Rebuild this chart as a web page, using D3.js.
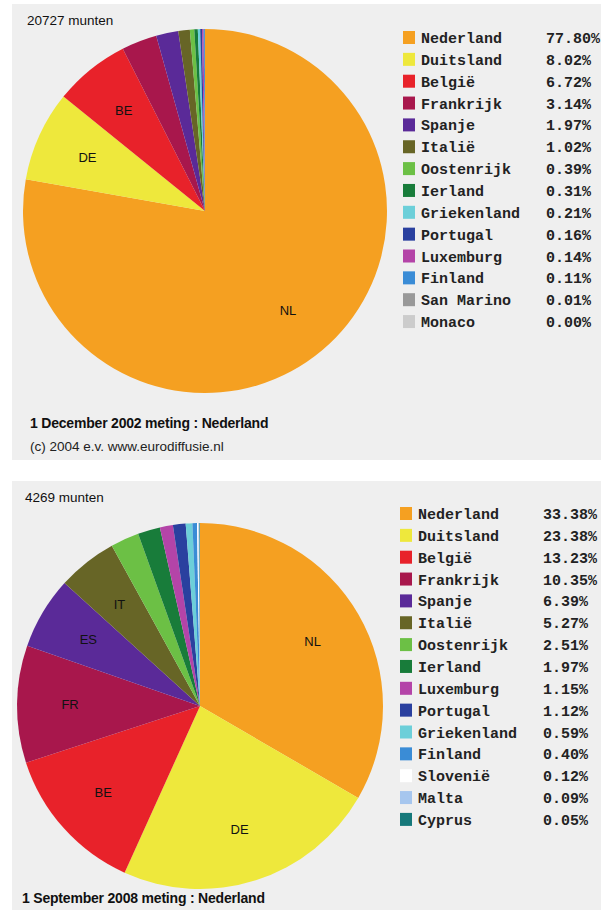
<!DOCTYPE html>
<html>
<head>
<meta charset="utf-8">
<script src="https://cdn.jsdelivr.net/npm/d3@7/dist/d3.min.js"></script>
<style>
  body { margin: 0; background: #fff; }
  svg { display: block; }
</style>
</head>
<body>
<div id="chart"></div>
<script>
// 2002 meting
const names2002 = ["Nederland", "Duitsland", "België", "Frankrijk", "Spanje", "Italië", "Oostenrijk", "Ierland", "Griekenland", "Portugal", "Luxemburg", "Finland", "San Marino", "Monaco"];
const codes2002 = ["NL", "DE", "BE", "FR", "ES", "IT", "AT", "IE", "GR", "PT", "LU", "FI", "SM", "MC"];
const values2002 = [77.80, 8.02, 6.72, 3.14, 1.97, 1.02, 0.39, 0.31, 0.21, 0.16, 0.14, 0.11, 0.01, 0.00];

// 2008 meting
const names2008 = ["Nederland", "Duitsland", "België", "Frankrijk", "Spanje", "Italië", "Oostenrijk", "Ierland", "Luxemburg", "Portugal", "Griekenland", "Finland", "Slovenië", "Malta", "Cyprus"];
const codes2008 = ["NL", "DE", "BE", "FR", "ES", "IT", "AT", "IE", "LU", "PT", "GR", "FI", "SI", "MT", "CY"];
const values2008 = [33.38, 23.38, 13.23, 10.35, 6.39, 5.27, 2.51, 1.97, 1.15, 1.12, 0.59, 0.40, 0.12, 0.09, 0.05];

const countryColors = {
  "Nederland": "#f5a021", "Duitsland": "#eee83c", "België": "#e8222a", "Frankrijk": "#a8174c",
  "Spanje": "#5a2a98", "Italië": "#676526", "Oostenrijk": "#6cc045", "Ierland": "#187c3a",
  "Griekenland": "#6ccfd9", "Portugal": "#2a409f", "Luxemburg": "#b444a8", "Finland": "#3a8cd6",
  "San Marino": "#999999", "Monaco": "#cccccc", "Slovenië": "#ffffff", "Malta": "#a6c6ee", "Cyprus": "#16787a"
};

const width = 601, height = 910;

const svg = d3.select("#chart").append("svg")
    .attr("width", width)
    .attr("height", height);

function drawPanel(opt) {
  const g = svg.append("g");

  g.append("rect")
      .attr("x", 12).attr("y", opt.top)
      .attr("width", width - 12).attr("height", opt.h)
      .attr("fill", "#efefef");

  g.append("text")
      .attr("x", opt.headerX).attr("y", opt.top + 21)
      .attr("font-family", "Liberation Sans, Arial, sans-serif")
      .attr("font-size", 13.5)
      .attr("fill", "#111")
      .text(opt.header);

  const data = opt.names.map((n, i) => ({name: n, code: opt.codes[i], value: opt.values[i]}));

  const pie = d3.pie().sort(null).value(d => d.value);
  const arc = d3.arc().innerRadius(0).outerRadius(opt.r);
  const labelArc = d3.arc().innerRadius(opt.r * 0.71).outerRadius(opt.r * 0.71);

  const pg = g.append("g").attr("transform", `translate(${opt.cx},${opt.cy})`);
  const arcs = pie(data);

  pg.selectAll("path")
    .data(arcs)
    .enter().append("path")
      .attr("d", arc)
      .attr("fill", d => countryColors[d.data.name]);

  pg.selectAll("text")
    .data(arcs.filter(d => d.data.value >= 5))
    .enter().append("text")
      .attr("transform", d => `translate(${labelArc.centroid(d)})`)
      .attr("text-anchor", "middle")
      .attr("dy", "0.35em")
      .attr("font-family", "Liberation Sans, Arial, sans-serif")
      .attr("font-size", 13)
      .attr("fill", "#111")
      .text(d => d.data.code);

  // legend
  const rowY = d3.scaleLinear().domain([0, 1]).range([opt.legendY, opt.legendY + 21.85]);
  const lg = g.append("g");
  const rows = lg.selectAll("g")
    .data(data)
    .enter().append("g")
      .attr("transform", (d, i) => `translate(0,${rowY(i)})`);

  rows.append("rect")
      .attr("x", opt.legendX).attr("y", -7)
      .attr("width", 12).attr("height", 13)
      .attr("fill", d => countryColors[d.name]);

  rows.append("text")
      .attr("x", opt.legendX + 18).attr("y", 5)
      .attr("font-family", "Liberation Mono, Courier New, monospace")
      .attr("font-weight", "bold")
      .attr("font-size", 15)
      .attr("fill", "#222")
      .text(d => d.name);

  rows.append("text")
      .attr("x", opt.legendX + 143).attr("y", 5)
      .attr("font-family", "Liberation Mono, Courier New, monospace")
      .attr("font-weight", "bold")
      .attr("font-size", 15)
      .attr("fill", "#222")
      .text(d => d.value.toFixed(2) + "%");

  g.append("text")
      .attr("x", opt.footerX).attr("y", opt.footerY)
      .attr("font-family", "Liberation Sans, Arial, sans-serif")
      .attr("font-size", 14)
      .attr("font-weight", "bold")
      .attr("letter-spacing", -0.2)
      .attr("fill", "#111")
      .text(opt.footer);

  if (opt.copyright) {
    g.append("text")
        .attr("x", opt.footerX).attr("y", opt.footerY + 23)
        .attr("font-family", "Liberation Sans, Arial, sans-serif")
        .attr("font-size", 13.5)
        .attr("fill", "#222")
        .text(opt.copyright);
  }
}

drawPanel({
  top: 4, h: 456,
  header: "20727 munten", headerX: 27,
  names: names2002, codes: codes2002, values: values2002,
  cx: 205, cy: 211, r: 182,
  legendX: 403, legendY: 38,
  footer: "1 December 2002 meting : Nederland", footerX: 30, footerY: 428,
  copyright: "(c) 2004 e.v. www.eurodiffusie.nl"
});

drawPanel({
  top: 481, h: 429,
  header: "4269 munten", headerX: 25,
  names: names2008, codes: codes2008, values: values2008,
  cx: 200, cy: 706, r: 183,
  legendX: 400, legendY: 514,
  footer: "1 September 2008 meting : Nederland", footerX: 22, footerY: 903
});
</script>
</body>
</html>
